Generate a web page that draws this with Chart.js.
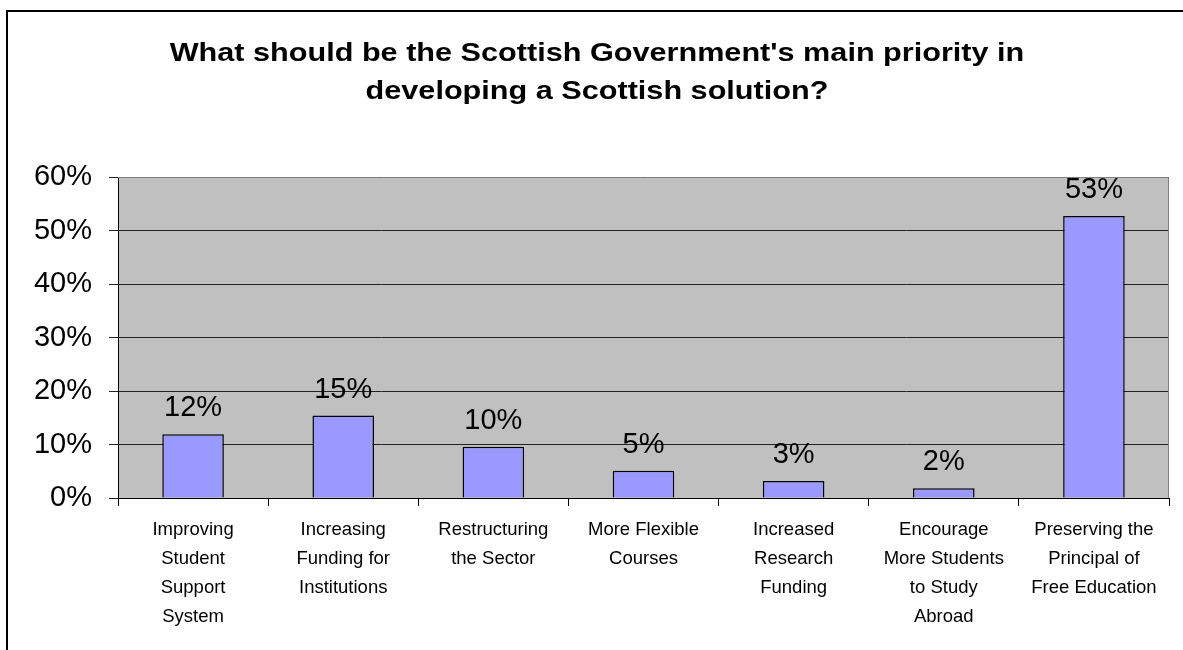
<!DOCTYPE html>
<html>
<head>
<meta charset="utf-8">
<script src="https://cdn.jsdelivr.net/npm/chart.js@4/dist/chart.umd.min.js"></script>
<style>
  html, body { margin: 0; padding: 0; background: #fff; }
  #wrap { width: 1183px; height: 650px; }
</style>
</head>
<body>
<div id="wrap"><canvas id="barChart" width="1183" height="650"></canvas></div>
<script>
const titleLines = ["What should be the Scottish Government's main priority in", "developing a Scottish solution?"];
const categories = [
  ["Improving", "Student", "Support", "System"],
  ["Increasing", "Funding for", "Institutions"],
  ["Restructuring", "the Sector"],
  ["More Flexible", "Courses"],
  ["Increased", "Research", "Funding"],
  ["Encourage", "More Students", "to Study", "Abroad"],
  ["Preserving the", "Principal of", "Free Education"]
];
const shares = [11.9, 15.4, 9.6, 5.1, 3.2, 1.8, 52.7];
const yTicks = [0, 10, 20, 30, 40, 50, 60];

const FONT = '"Liberation Sans", Arial, sans-serif';

// grey plot background, outer frame and plot border
const backdrop = {
  id: 'backdrop',
  beforeDraw(chart) {
    const c = chart.ctx, a = chart.chartArea;
    c.save();
    c.fillStyle = '#C0C0C0';
    c.fillRect(a.left, a.top, a.right - a.left, a.bottom - a.top);
    c.strokeStyle = '#000';
    c.lineWidth = 2;
    c.strokeRect(7, 11, 1300, 800);
    c.restore();
  },
  afterDatasetsDraw(chart) {
    const c = chart.ctx, a = chart.chartArea;
    c.save();
    c.strokeStyle = '#808080';
    c.lineWidth = 1;
    c.beginPath();
    c.moveTo(a.left, a.top + 0.5);
    c.lineTo(a.right - 0.5, a.top + 0.5);
    c.lineTo(a.right - 0.5, a.bottom);
    c.stroke();
    c.restore();
  }
};

// title, drawn a bit wide like the original
const wideTitle = {
  id: 'wideTitle',
  afterDraw(chart) {
    const c = chart.ctx;
    c.save();
    c.font = 'bold 25px ' + FONT;
    c.fillStyle = '#000';
    c.textAlign = 'center';
    c.textBaseline = 'alphabetic';
    c.translate(597, 0);
    c.scale(1.225, 1);
    c.fillText(titleLines[0], 0, 61);
    c.fillText(titleLines[1], 0, 99);
    c.restore();
  }
};

// value labels above each bar
const valueLabels = {
  id: 'valueLabels',
  afterDatasetsDraw(chart) {
    const c = chart.ctx;
    const meta = chart.getDatasetMeta(0);
    c.save();
    c.font = '29px ' + FONT;
    c.fillStyle = '#000';
    c.textAlign = 'center';
    c.textBaseline = 'alphabetic';
    meta.data.forEach((bar, i) => {
      c.fillText(Math.round(shares[i]) + '%', bar.x, bar.y - 18);
    });
    c.restore();
  }
};

new Chart(document.getElementById("barChart"), {
  type: 'bar',
  data: {
    labels: categories,
    datasets: [{
      data: shares,
      backgroundColor: '#9999FF',
      borderColor: '#000',
      borderWidth: 1.5,
      barPercentage: 0.41,
      categoryPercentage: 1
    }]
  },
  options: {
    responsive: false,
    animation: false,
    layout: { padding: { left: 0, right: 14, top: 177, bottom: 0 } },
    plugins: {
      legend: { display: false },
      tooltip: { enabled: false },
      title: { display: false }
    },
    scales: {
      x: {
        afterFit(scale) { scale.height = 152; },
        grid: { drawOnChartArea: false, drawTicks: true, tickLength: 8, color: '#000', offset: true },
        border: { color: '#000', width: 1 },
        ticks: {
          color: '#000',
          font: { family: FONT, size: 18.5, lineHeight: 1.57 },
          padding: 9,
          maxRotation: 0,
          autoSkip: false
        }
      },
      y: {
        min: 0,
        max: 60,
        afterFit(scale) { scale.width = 118; },
        afterBuildTicks(scale) { scale.ticks = yTicks.map(v => ({ value: v })); },
        grid: { color: '#222', tickLength: 9, lineWidth: 1 },
        border: { color: '#000', width: 1 },
        ticks: {
          color: '#000',
          font: { family: FONT, size: 29 },
          padding: 17,
          callback: v => v + '%'
        }
      }
    }
  },
  plugins: [backdrop, wideTitle, valueLabels]
});
</script>
</body>
</html>
